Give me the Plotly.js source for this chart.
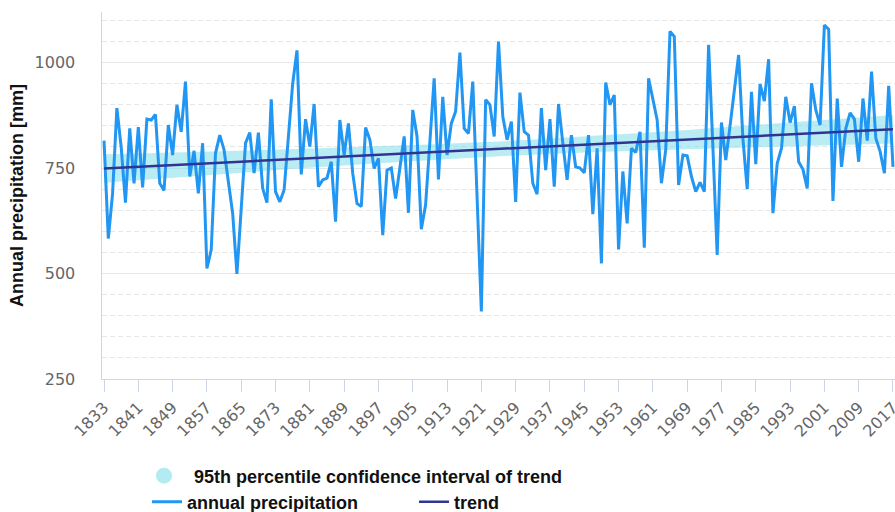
<!DOCTYPE html>
<html>
<head>
<meta charset="utf-8">
<script src="https://cdn.plot.ly/plotly-3.0.1.min.js"></script>
<style>html,body{margin:0;padding:0;background:#fff;}#chart{width:895px;height:512px;}</style>
</head>
<body>
<div id="chart"></div>
<script>
const years = [];
for (let y = 1833; y <= 2017; y++) years.push(y);

const precipitation = [
  815, 583, 690, 892, 800, 668, 844, 714, 847, 704,
  866, 864, 877, 714, 697, 852, 781, 900, 836, 955,
  730, 791, 690, 809, 512, 556, 785, 828, 793, 722,
  643, 499, 660, 809, 834, 738, 834, 702, 668, 913,
  694, 670, 698, 830, 950, 1029, 735, 866, 801, 902,
  706, 722, 726, 765, 623, 864, 781, 856, 738, 666,
  659, 846, 817, 749, 773, 591, 745, 750, 678, 750,
  825, 644, 888, 825, 605, 663, 817, 963, 723, 919,
  781, 856, 884, 1024, 844, 832, 955, 700, 410, 912,
  900, 825, 1050, 872, 817, 860, 670, 929, 836, 828,
  714, 688, 892, 745, 866, 706, 902, 809, 722, 828,
  753, 750, 739, 828, 641, 797, 524, 953, 900, 923,
  557, 742, 619, 797, 787, 836, 561, 963, 915, 864,
  714, 793, 1074, 1062, 710, 781, 779, 730, 694, 716,
  694, 1042, 800, 544, 858, 769, 850, 930, 1018, 820,
  700, 931, 759, 949, 909, 1008, 643, 761, 797, 919,
  858, 897, 765, 747, 702, 951, 888, 852, 1089, 1079,
  672, 915, 753, 844, 881, 866, 765, 915, 815, 979,
  821, 789, 738, 945, 753
];

const trendYears = [1833, 2017];
const trendValues = [749, 842];

const bandYears = [1833, 1856, 1880, 1903, 1925, 1948, 1970, 1994, 2017];
const bandLower = [715, 732, 750, 765, 778, 788, 795, 802, 808];
const bandUpper = [783, 789, 796, 804, 813, 827, 841, 859, 876];

const xTickVals = [];
for (let y = 1833; y <= 2017; y += 8) xTickVals.push(y);
const yTickVals = [250, 500, 750, 1000];

const tickFont = {family: 'DejaVu Sans, sans-serif', size: 16, color: '#666666'};
const legendFont = {family: 'Liberation Sans, Arial, sans-serif', size: 18, color: '#111111', weight: 700};

const traces = [
  {x: bandYears, y: bandLower, mode: 'lines', line: {width: 0, color: 'rgba(0,0,0,0)'},
   showlegend: false, hoverinfo: 'skip'},
  {x: bandYears, y: bandUpper, mode: 'lines', line: {width: 0, color: 'rgba(0,0,0,0)', shape: 'spline'},
   fill: 'tonexty', fillcolor: 'rgba(128,222,234,0.55)', showlegend: false, hoverinfo: 'skip'},
  {x: [null], y: [null], mode: 'markers', name: '\u00a0\u00a095th percentile confidence interval of trend',
   marker: {symbol: 'circle', size: 16, color: '#b2ebf2'}, legend: 'legend'},
  {x: years, y: precipitation, mode: 'lines', name: 'annual precipitation',
   line: {color: '#2196f3', width: 3}, legend: 'legend2'},
  {x: trendYears, y: trendValues, mode: 'lines', name: 'trend',
   line: {color: '#303593', width: 2.5}, legend: 'legend3'}
];

const legendBase = {orientation: 'h', xref: 'container', yref: 'container',
  xanchor: 'left', yanchor: 'middle', font: legendFont, bgcolor: 'rgba(0,0,0,0)',
  borderwidth: 0, itemclick: false, itemdoubleclick: false};

const layout = {
  width: 895, height: 512,
  margin: {l: 102, r: 0, t: 12, b: 133, pad: 0},
  paper_bgcolor: '#ffffff', plot_bgcolor: '#ffffff',
  xaxis: {
    range: [1832.53, 2017.47], tickvals: xTickVals, ticktext: xTickVals.map(String),
    tickangle: -45, tickfont: tickFont, ticks: 'outside', ticklen: 12, tickcolor: '#ccd6eb',
    tickwidth: 1, showgrid: false, zeroline: false, showline: true, linecolor: '#ccd6eb',
    linewidth: 1, fixedrange: true, ticklabeloverflow: 'allow'
  },
  yaxis: {
    range: [250, 1120], tickvals: yTickVals, ticktext: yTickVals.map(String), tickfont: tickFont,
    ticks: '', ticklabelstandoff: 22, showgrid: true, gridcolor: '#e6e6e6', gridwidth: 1,
    minor: {dtick: 50, tick0: 0, showgrid: true, gridcolor: '#e6e6e6', griddash: '5px,3px', gridwidth: 1},
    zeroline: false, showline: true, linecolor: '#ccd6eb', linewidth: 1.5, fixedrange: true,
    title: {text: 'Annual precipitation [mm]', standoff: 6,
      font: {family: 'Liberation Sans, Arial, sans-serif', size: 18, color: '#111111', weight: 700}}
  },
  showlegend: true,
  legend: Object.assign({}, legendBase, {x: 144 / 895, y: 1 - 476 / 512}),
  legend2: Object.assign({}, legendBase, {x: 147 / 895, y: 1 - 502 / 512}),
  legend3: Object.assign({}, legendBase, {x: 414 / 895, y: 1 - 502 / 512}),
  hovermode: false
};

Plotly.newPlot('chart', traces, layout, {displayModeBar: false, staticPlot: true});
</script>
</body>
</html>
